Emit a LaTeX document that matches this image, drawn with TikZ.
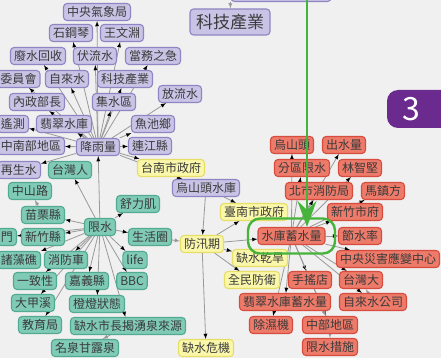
\documentclass[tikz,border=0pt]{standalone}
\usepackage{fontspec}
\setmainfont{Noto Sans CJK TC}
\usetikzlibrary{arrows.meta}

\definecolor{pagebg}{HTML}{F0F0F0}
\definecolor{txt}{HTML}{3A3A3A}
\definecolor{linkgray}{HTML}{999999}
\definecolor{purpfill}{HTML}{C9C4E6}
\definecolor{purpline}{HTML}{8F85C2}
\definecolor{tealfill}{HTML}{80CBB6}
\definecolor{tealline}{HTML}{52AA92}
\definecolor{yelfill}{HTML}{FAF7AA}
\definecolor{yelline}{HTML}{E6DE66}
\definecolor{redfill}{HTML}{EE7A6A}
\definecolor{redline}{HTML}{D64C3E}
\definecolor{hlgreen}{HTML}{46B43A}
\definecolor{tabpurple}{HTML}{6A2A8E}

\pgfdeclarelayer{bg}
\pgfdeclarelayer{links}
\pgfsetlayers{bg,links,main}

\begin{document}
\begin{tikzpicture}[x=1pt, y=-1pt, >=latex,
  box/.style={draw, rounded corners=3.5pt, line width=1.1pt, inner xsep=3.5pt,
    inner ysep=0pt, minimum height=17pt, text=txt, font=\fontsize{12}{12}\selectfont},
  purp/.style={box, fill=purpfill, draw=purpline},
  teal/.style={box, fill=tealfill, draw=tealline},
  yel/.style={box, fill=yelfill, draw=yelline},
  red/.style={box, fill=redfill, draw=redline},
  link/.style={->, draw=linkgray, line width=0.8pt}]
\useasboundingbox (0,0) rectangle (441,358);

% purple group
\node [purp, minimum width=100pt] (ptop) at (281,-7) {};
\node [purp, font=\fontsize{17}{17}\selectfont, minimum height=26pt, inner xsep=6pt] (kjbig) at (230,22) {科技產業};
\node [purp] (p1) at (97,12) {中央氣象局};
\node [purp] (p2) at (71,33) {石鋼琴};
\node [purp] (p3) at (122,33) {王文淵};
\node [purp] (p4) at (38,56) {廢水回收};
\node [purp] (p5) at (95,56) {伏流水};
\node [purp] (p6) at (153,56) {當務之急};
\node [purp] (p7) at (18.5,79) {委員會};
\node [purp] (p8) at (67,79) {自來水};
\node [purp] (p9) at (125,79) {科技產業};
\node [purp] (p10) at (180,94) {放流水};
\node [purp] (p11) at (37,102) {內政部長};
\node [purp] (p12) at (114,102) {集水區};
\node [purp] (p13) at (13,124) {遙測};
\node [purp] (p14) at (64,124) {翡翠水庫};
\node [purp] (p15) at (153,124) {魚池鄉};
\node [purp] (p16) at (31,146) {中南部地區};
\node [purp] (p17) at (98,147) {降雨量};
\node [purp] (p18) at (150,146) {連江縣};
\node [purp] (p19) at (19,170) {再生水};
\node [purp] (p20) at (206,188) {烏山頭水庫};

% teal group
\node [teal] (t1) at (70,170) {台灣人};
\node [teal] (t2) at (30,191) {中山路};
\node [teal] (t3) at (138,204) {舒力肌};
\node [teal] (t4) at (43,215) {苗栗縣};
\node [teal] (t5) at (100,227) {限水};
\node [teal] (t6) at (43,237) {新竹縣};
\node [teal] (t7) at (7,237) {門};
\node [teal] (t8) at (150,237) {生活圈};
\node [teal] (t9) at (19,260) {諸藻礁};
\node [teal] (t10) at (66,260) {消防車};
\node [teal] (t11) at (135,260) {life};
\node [teal] (t12) at (35,281) {一致性};
\node [teal] (t13) at (87,281) {嘉義縣};
\node [teal] (t14) at (132,281) {BBC};
\node [teal] (t15) at (33,303) {大甲溪};
\node [teal] (t16) at (97,304) {橙燈狀態};
\node [teal] (t17) at (40,325) {教育局};
\node [teal] (t18) at (128,326) {缺水市長揭湧泉來源};
\node [teal] (t19) at (85,348) {名泉甘露泉};

% yellow group
\node [yel] (y1) at (171,168) {台南市政府};
\node [yel] (y2) at (254,212) {臺南市政府};
\node [yel] (y3) at (202,244) {防汛期};
\node [yel] (y4) at (260,258) {缺水乾旱};
\node [yel] (y5) at (252,280) {全民防衛};
\node [yel] (y6) at (206,348) {缺水危機};

% red group
\node [red] (r1) at (292,145) {烏山頭};
\node [red] (r2) at (344,145) {出水量};
\node [red] (r3) at (302,168) {分區限水};
\node [red] (r4) at (360,168) {林智堅};
\node [red] (r5) at (319,191) {北市消防局};
\node [red] (r6) at (383,191) {馬鎮方};
\node [red] (r7) at (355,212) {新竹市府};
\node [red] (r8) at (291.5,236) {水庫蓄水量};
\node [red] (r9) at (360,236) {節水率};
\node [red] (r10) at (388,259) {中央災害應變中心};
\node [red] (r11) at (310,280) {手搖店};
\node [red] (r12) at (361,280) {台灣大};
\node [red] (r13) at (285,302) {翡翠水庫蓄水量};
\node [red] (r14) at (373,302) {自來水公司};
\node [red] (r15) at (271,325) {除濕機};
\node [red] (r16) at (330,325) {中部地區};
\node [red] (r17) at (330,347) {限水措施};

% highlight
\node [draw=hlgreen, line width=2.4pt, rounded corners=12pt, minimum width=87pt, minimum height=35pt] (hl) at (r8) {};
\coordinate (gtop) at (307,-3);
\draw [hlgreen, line width=2.4pt, -{Stealth[length=26pt, width=19pt, inset=9pt]}] (gtop) -- (gtop |- r8.north);

% tab
\fill [tabpurple, rounded corners=11pt] (387,90) rectangle (470,128);
\node [text=white, font=\fontsize{32}{32}\selectfont] (tab) at (411,109) {3};

\begin{pgfonlayer}{bg}
\fill [pagebg] (0,0) rectangle (441,358);
\end{pgfonlayer}

\begin{pgfonlayer}{links}
\draw [link] (ptop.south west) -- (kjbig);
\draw [link] (p17) edge (p1) edge (p2) edge (p3) edge (p4) edge (p5) edge (p6)
  edge (p7) edge (p8) edge (p9) edge (p10) edge (p11) edge (p12) edge (p13)
  edge (p14) edge (p15) edge (p16) edge (p18) edge (p19) edge (y1) edge (p20);
\draw [link] (t5) edge (t1) edge (p17) edge (t3) edge (t4) edge (t6) edge (t7)
  edge (t8) edge (t9) edge (t10) edge (t11) edge (t12) edge (t13) edge (t14)
  edge (t15) edge (t16) edge (t17) edge (t18);
\draw [link] (t4) -- (t2);
\draw [link] (t18) -- (t19);
\draw [link] (t8) -- (y3);
\draw [link] (p20) edge (y3) edge (y2);
\draw [link] (y3) edge (y2) edge (y4) edge (y5) edge (y6) edge (r8);
\draw [link] (r8) edge (r1) edge (r2) edge (r3) edge (r4) edge (r5) edge (r6)
  edge (r7) edge (r9) edge (r10) edge (r11) edge (r12) edge (r13) edge (r14)
  edge (r15) edge (r16);
\draw [link] (r11) -- (r16);
\draw [link] (r16) -- (r17);
\draw [link] (r14) -- (r12);
\end{pgfonlayer}
\end{tikzpicture}
\end{document}
